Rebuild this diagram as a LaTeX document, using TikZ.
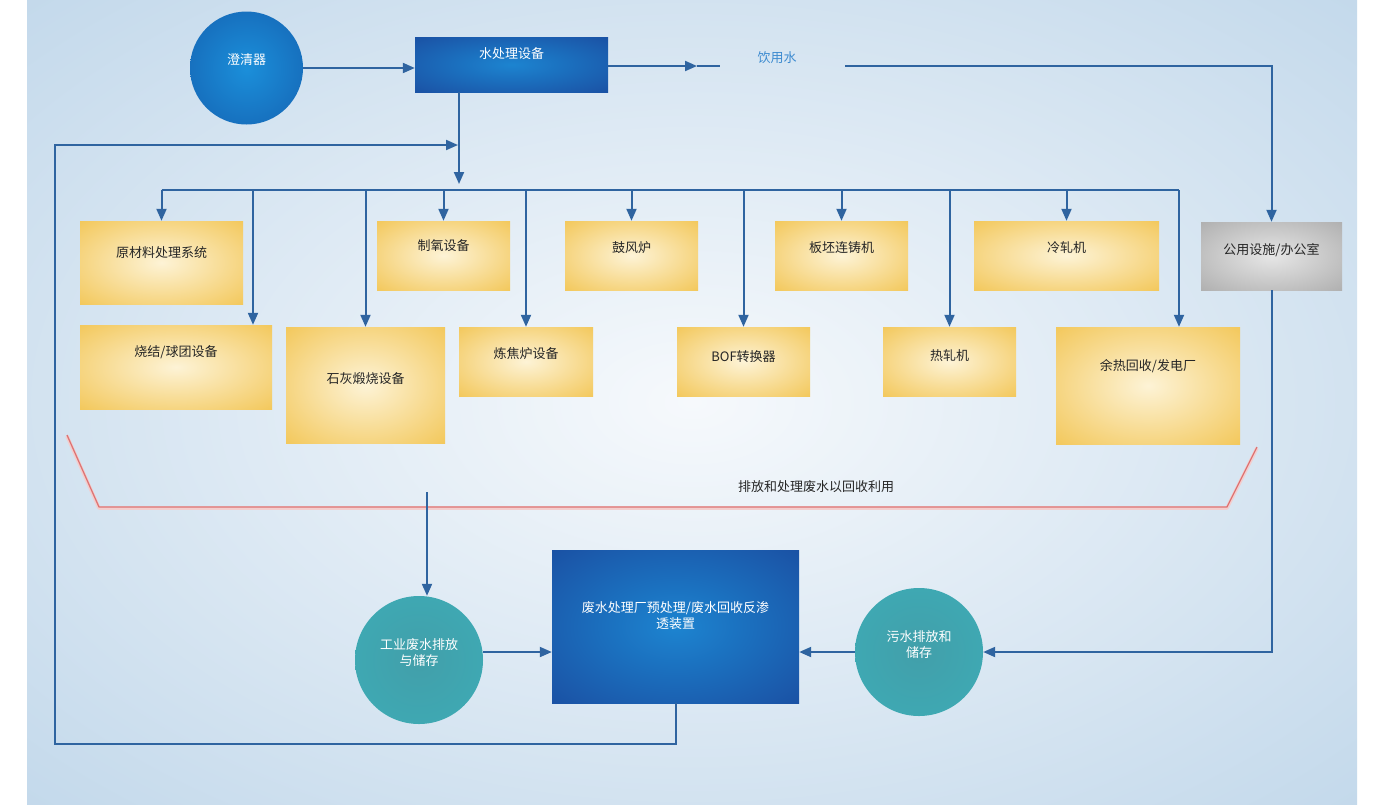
\documentclass[tikz,border=0pt]{standalone}
\usepackage{fontspec}
\setmainfont{Noto Sans CJK SC}
\usetikzlibrary{arrows.meta}

\definecolor{bgin}{HTML}{F6F9FC}
\definecolor{bgout}{HTML}{BAD3E8}
\definecolor{pipe}{HTML}{2F64A0}
\definecolor{plantin}{HTML}{FDF3D6}
\definecolor{plantout}{HTML}{F1C045}
\definecolor{greyin}{HTML}{E6E6E6}
\definecolor{greyout}{HTML}{A6A6A6}
\definecolor{deepin}{HTML}{1C84D0}
\definecolor{deepout}{HTML}{1A489C}
\definecolor{clarin}{HTML}{1B8FDA}
\definecolor{clarout}{HTML}{145CAC}
\definecolor{tealin}{HTML}{429FAA}
\definecolor{tealout}{HTML}{3CAEB8}
\definecolor{drainred}{HTML}{DD7474}
\definecolor{drinkblue}{HTML}{3D8BD0}

% soft radial glow reaching the outer colour near the shape's edge
\colorlet{softin}{white}
\colorlet{softout}{white}
\pgfdeclareradialshading[softin,softout]{softglow}{\pgfpoint{0bp}{0bp}}{%
  color(0bp)=(softin); color(42bp)=(softout); color(75bp)=(softout)}
\tikzset{soft/.code 2 args={\colorlet{softin}{#1}\colorlet{softout}{#2}%
  \tikzset{shade, shading=softglow}}}

\begin{document}
\begin{tikzpicture}[x=1pt, y=-1pt, >={Triangle[length=12pt,width=10pt]},
  pipe line/.style={draw=pipe, line width=2pt},
  plant/.style={rectangle, soft={plantin}{plantout}, inner sep=0pt},
  office/.style={rectangle, soft={greyin}{greyout}, inner sep=0pt},
  deep/.style={rectangle, soft={deepin}{deepout}, inner sep=0pt},
  tank/.style={circle, soft={clarin}{clarout}, inner sep=0pt},
  pool/.style={circle, soft={tealin}{tealout}, inner sep=0pt},
  tag/.style={inner sep=0pt, text=black!85, align=center,
    font=\fontsize{13}{16}\selectfont}]

  \useasboundingbox (0,0) rectangle (1373,804);
  \fill[white] (0,0) rectangle (1373,804);
  \path[soft={bgin}{bgout}] (27,0) rectangle (1357,804);

  % drain collector
  \draw[drainred!35, line width=3.5pt, line join=round]
    (67,436) -- (99,508) -- (1227,508) -- (1257,448);
  \draw[drainred, line width=1.3pt, line join=round]
    (67,435) -- (99,507) -- (1227,507) -- (1257,447);
  \node[tag] (drainT) at (816,487) {排放和处理废水以回收利用};

  % supply side
  \node[tank, minimum size=113] (clar) at (246.5,68) {};
  \node[tag, text=white] (clarT) at ([yshift=8pt]clar.center) {澄清器};
  \node[deep, minimum width=193, minimum height=55] (wtp) at (511.5,64.5) {};
  \node[tag, text=white] (wtpT) at ([yshift=-17pt]wtp.north) {水处理设备};
  \node[tag, text=drinkblue] (drink) at (777,58) {饮用水};

  \coordinate (drinkTip) at (697,66);
  \coordinate (drinkW) at (720,66);
  \coordinate (drinkE) at (845,66);
  \coordinate (feed) at (459,184);
  \coordinate (loopIn) at (458,145);
  \coordinate (loopC) at (55,744);
  \coordinate (busL) at (161.5,190);
  \coordinate (busR) at (1179,190);
  \coordinate (drainTop) at (427,492);

  % plants
  \node[plant, minimum width=163, minimum height=83] (raw) at (161.5,262.5) {};
  \node[plant, minimum width=192, minimum height=84] (sinter) at (176,367) {};
  \node[plant, minimum width=159, minimum height=116] (lime) at (365.5,385) {};
  \node[plant, minimum width=133, minimum height=69] (oxy) at (443.5,255.5) {};
  \node[plant, minimum width=134, minimum height=69] (coke) at (526,361.5) {};
  \node[plant, minimum width=133, minimum height=69] (blast) at (631.5,255.5) {};
  \node[plant, minimum width=133, minimum height=69] (bof) at (743.5,361.5) {};
  \node[plant, minimum width=133, minimum height=69] (caster) at (841.5,255.5) {};
  \node[plant, minimum width=133, minimum height=69] (hot) at (949.5,361.5) {};
  \node[plant, minimum width=185, minimum height=69] (cold) at (1066.5,255.5) {};
  \node[plant, minimum width=184, minimum height=117] (power) at (1148,385.5) {};
  \node[office, minimum width=141, minimum height=68] (util) at (1271.5,256) {};

  \node[tag] (rawT) at ([yshift=-32pt]raw.north) {原材料处理系统};
  \node[tag] (sinterT) at ([yshift=-27pt]sinter.north) {烧结/球团设备};
  \node[tag] (limeT) at ([yshift=-52pt]lime.north) {石灰煅烧设备};
  \node[tag] (oxyT) at ([yshift=-25pt]oxy.north) {制氧设备};
  \node[tag] (cokeT) at ([yshift=-27pt]coke.north) {炼焦炉设备};
  \node[tag] (blastT) at ([yshift=-27pt]blast.north) {鼓风炉};
  \node[tag] (bofT) at ([yshift=-30pt]bof.north) {BOF转换器};
  \node[tag] (casterT) at ([yshift=-27pt]caster.north) {板坯连铸机};
  \node[tag] (hotT) at ([yshift=-29pt]hot.north) {热轧机};
  \node[tag] (coldT) at ([yshift=-27pt]cold.north) {冷轧机};
  \node[tag] (powerT) at ([yshift=-39pt]power.north) {余热回收/发电厂};
  \node[tag] (utilT) at ([yshift=-28pt]util.north) {公用设施/办公室};

  % waste water side
  \node[deep, minimum width=247, minimum height=153] (ro) at (675.5,626.5) {};
  \node[tag, text=white] (roT) at ([yshift=-66pt]ro.north)
    {废水处理厂预处理/废水回收反渗\\透装置};
  \node[pool, minimum size=128] (ind) at (419,660) {};
  \node[tag, text=white] (indT) at ([yshift=7pt]ind.center) {工业废水排放\\与储存};
  \node[pool, minimum size=128] (sew) at (919,652) {};
  \node[tag, text=white] (sewT) at ([yshift=7pt]sew.center) {污水排放和\\储存};

  % distribution
  \draw[pipe line] (busL) -- (busR);
  \path[->, every edge/.append style={pipe line}]
    (clar.east) edge (clar.east -| wtp.west)
    (wtp.east |- drinkTip) edge (drinkTip)
    (wtp.south -| feed) edge (feed)
    (raw.north |- busL) edge (raw.north)
    (busL -| 253,0) edge (sinter.north -| 253,0)
    (lime.north |- busL) edge (lime.north)
    (oxy.north |- busL) edge (oxy.north)
    (coke.north |- busL) edge (coke.north)
    (blast.north |- busL) edge (blast.north)
    (bof.north |- busL) edge (bof.north)
    (caster.north |- busL) edge (caster.north)
    (hot.north |- busL) edge (hot.north)
    (cold.north |- busL) edge (cold.north)
    (busR) edge (busR |- power.north)
    (drainTop) edge (drainTop |- ind.north)
    (ind.east |- sew.west) edge (ro.west |- sew.west)
    (sew.west) edge (sew.west -| ro.east);
  \draw[pipe line] (drinkTip) -- (drinkW);
  \draw[pipe line, ->] (drinkE) -| (util.north);
  \draw[pipe line, ->] (util.south) |- (sew.east);
  \draw[pipe line, ->] (ro.south -| 676,0) |- (loopC) |- (loopIn);
\end{tikzpicture}
\end{document}
